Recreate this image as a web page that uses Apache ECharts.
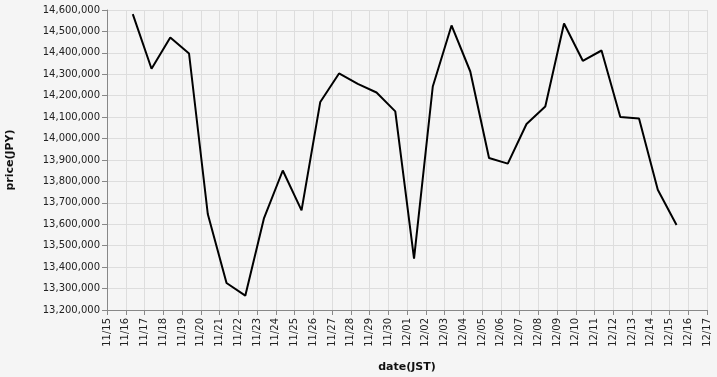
<!DOCTYPE html>
<html>
<head>
<meta charset="utf-8">
<script src="https://cdn.jsdelivr.net/npm/echarts@6/dist/echarts.min.js"></script>
<style>
html,body{margin:0;padding:0;background:#f5f5f5;}
#chart{width:717px;height:377px;}
</style>
</head>
<body>
<div id="chart"></div>
<script>
// Daily observation times (JST) and prices (JPY)
const dates = [
  '2023-11-16T09:00','2023-11-17T09:00','2023-11-18T09:00','2023-11-19T09:00','2023-11-20T09:00',
  '2023-11-21T09:00','2023-11-22T09:00','2023-11-23T09:00','2023-11-24T09:00','2023-11-25T09:00',
  '2023-11-26T09:00','2023-11-27T09:00','2023-11-28T09:00','2023-11-29T09:00','2023-11-30T09:00',
  '2023-12-01T09:00','2023-12-02T09:00','2023-12-03T09:00','2023-12-04T09:00','2023-12-05T09:00',
  '2023-12-06T09:00','2023-12-07T09:00','2023-12-08T09:00','2023-12-09T09:00','2023-12-10T09:00',
  '2023-12-11T09:00','2023-12-12T09:00','2023-12-13T09:00','2023-12-14T09:00','2023-12-15T09:00'
];
const prices = [
  14581000, 14326000, 14472000, 14397000, 13648000,
  13326000, 13267000, 13629000, 13851000, 13665000,
  14171000, 14304000, 14255000, 14215000, 14127000,
  13440000, 14243000, 14528000, 14313000, 13909000,
  13883000, 14068000, 14150000, 14537000, 14363000,
  14411000, 14101000, 14094000, 13761000, 13597000
];
const xStart = '2023-11-15T00:00';
const xEnd = '2023-12-17T00:00';
const yMin = 13200000, yMax = 14600000, yStep = 100000;
const xTitle = 'date(JST)';
const yTitle = 'price(JPY)';

const DAY = 86400000;
const pad = n => (n < 10 ? '0' : '') + n;
const chart = echarts.init(document.getElementById('chart'), null, {renderer: 'canvas'});
chart.setOption({
  backgroundColor: '#f5f5f5',
  animation: false,
  grid: {left: 107, right: 10, top: 10, bottom: 67, containLabel: false, outerBoundsMode: 'none'},
  xAxis: {
    type: 'time',
    min: new Date(xStart).getTime(),
    max: new Date(xEnd).getTime(),
    interval: DAY, minInterval: DAY, maxInterval: DAY,
    name: xTitle, nameLocation: 'middle', nameGap: 52,
    nameTextStyle: {fontFamily: 'DejaVu Sans', fontSize: 11, fontWeight: 'bold', color: '#111'},
    axisLine: {show: true, lineStyle: {color: '#888', width: 1}},
    axisTick: {show: true, length: 5, lineStyle: {color: '#888'}},
    axisLabel: {
      rotate: 90, margin: 8, fontFamily: 'DejaVu Sans', fontSize: 10, color: '#222',
      showMinLabel: true, showMaxLabel: true, hideOverlap: false,
      formatter: v => { const d = new Date(v); return pad(d.getMonth() + 1) + '/' + pad(d.getDate()); }
    },
    splitLine: {show: true, lineStyle: {color: '#ddd', width: 1}}
  },
  yAxis: {
    type: 'value', min: yMin, max: yMax, interval: yStep,
    name: yTitle, nameLocation: 'middle', nameGap: 91,
    nameTextStyle: {fontFamily: 'DejaVu Sans', fontSize: 11, fontWeight: 'bold', color: '#111'},
    axisLine: {show: true, lineStyle: {color: '#888', width: 1}},
    axisTick: {show: true, length: 5, lineStyle: {color: '#888'}},
    axisLabel: {
      margin: 7, fontFamily: 'DejaVu Sans', fontSize: 10, color: '#222',
      formatter: v => v.toLocaleString('en-US')
    },
    splitLine: {show: true, lineStyle: {color: '#ddd', width: 1}}
  },
  series: [{
    type: 'line',
    data: dates.map((d, i) => [new Date(d).getTime(), prices[i]]),
    showSymbol: false,
    lineStyle: {color: '#000', width: 2},
    itemStyle: {color: '#000'}
  }]
});
</script>
</body>
</html>
